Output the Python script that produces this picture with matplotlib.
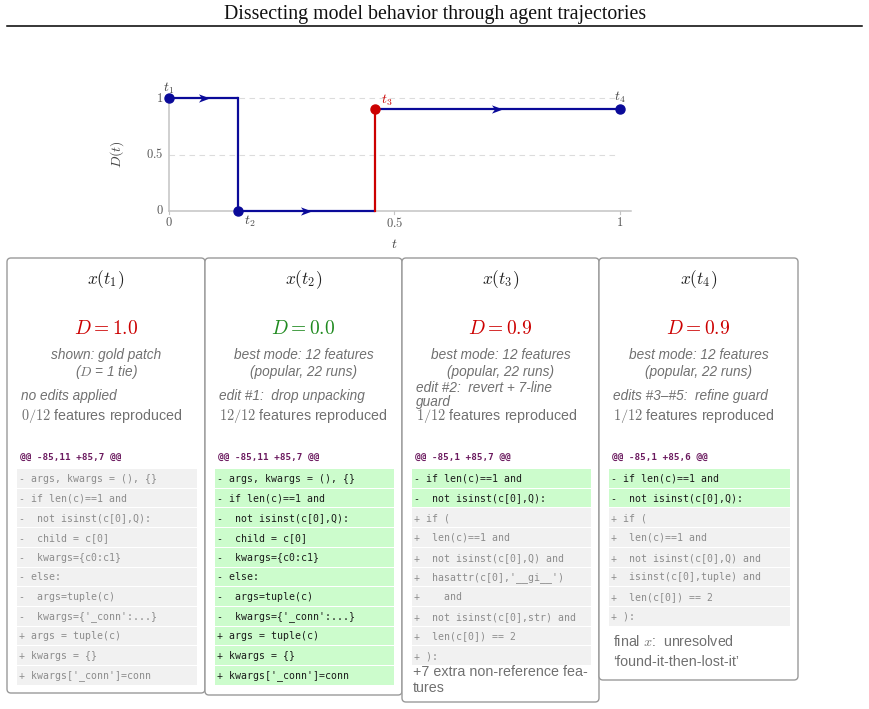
import matplotlib
matplotlib.use("Agg")
import matplotlib.pyplot as plt
from matplotlib.patches import FancyBboxPatch, Rectangle
from matplotlib.path import Path
import numpy as np

plt.rcParams['mathtext.fontset'] = 'cm'

# ---------------- data ----------------
title = "Dissecting model behavior through agent trajectories"
t_vals = [0.0, 0.153, 0.456, 1.0]
D_vals = [1.0, 0.0, 0.9, 0.9]
t_names = ["$t_1$", "$t_2$", "$t_3$", "$t_4$"]
jump_is_red = [False, True, False]   # transitions into t2, t3, t4
x_ticks = [0, 0.5, 1]
x_tick_labels = ["$0$", "$0.5$", "$1$"]
y_ticks = [0, 0.5, 1]
y_tick_labels = ["$0$", "$0.5$", "$1$"]

panel_titles = ["$x(t_1)$", "$x(t_2)$", "$x(t_3)$", "$x(t_4)$"]
panel_D = [1.0, 0.0, 0.9, 0.9]
panel_D_good = [False, True, False, False]
mode_line1 = ["shown: gold patch", "best mode: 12 features",
              "best mode: 12 features", "best mode: 12 features"]
mode_line2 = ["($D$ = 1 tie)", "(popular, 22 runs)",
              "(popular, 22 runs)", "(popular, 22 runs)"]
edit_lines = [["no edits applied"], ["edit #1:  drop unpacking"],
              ["edit #2:  revert + 7-line", "guard"], ["edits #3\u2013#5:  refine guard"]]
reproduced = [0, 12, 1, 1]
n_features = 12
hunk_headers = ["@@ -85,11 +85,7 @@", "@@ -85,11 +85,7 @@",
                "@@ -85,1 +85,7 @@", "@@ -85,1 +85,6 @@"]

code_full = ["- args, kwargs = (), {}",
             "- if len(c)==1 and",
             "-  not isinst(c[0],Q):",
             "-  child = c[0]",
             "-  kwargs={c0:c1}",
             "- else:",
             "-  args=tuple(c)",
             "-  kwargs={'_conn':...}",
             "+ args = tuple(c)",
             "+ kwargs = {}",
             "+ kwargs['_conn']=conn"]
code_t3 = ["- if len(c)==1 and",
           "-  not isinst(c[0],Q):",
           "+ if (",
           "+  len(c)==1 and",
           "+  not isinst(c[0],Q) and",
           "+  hasattr(c[0],'__gi__')",
           "+    and",
           "+  not isinst(c[0],str) and",
           "+  len(c[0]) == 2",
           "+ ):"]
code_t4 = ["- if len(c)==1 and",
           "-  not isinst(c[0],Q):",
           "+ if (",
           "+  len(c)==1 and",
           "+  not isinst(c[0],Q) and",
           "+  isinst(c[0],tuple) and",
           "+  len(c[0]) == 2",
           "+ ):"]
panel_code = [code_full, code_full, code_t3, code_t4]
panel_green_rows = [0, 11, 2, 2]   # number of leading rows highlighted green
footers = [[], [], ["+7 extra non-reference fea-", "tures"],
           ["final $x$:  unresolved", "\u2018found-it-then-lost-it\u2019"]]

# ---------------- styles ----------------
BLUE = "#0a0a99"
RED = "#cc0000"
GREEN_TXT = "#1f8a1f"
GRAY_TXT = "#707070"
GREEN_BG = "#ccfccc"
GRAY_BG = "#f1f1f1"
PURPLE = "#6b1a5f"

W, H = 870, 709
fig = plt.figure(figsize=(W / 100, H / 100), dpi=100)
bg = fig.add_axes([0, 0, 1, 1])
bg.set_xlim(0, W)
bg.set_ylim(H, 0)
bg.axis("off")

# title and rule
bg.text(W / 2, 14, title, ha="center", va="center", fontsize=14.3,
        family="Liberation Serif", color="#111")
bg.plot([7, 862], [26, 26], color="black", lw=1.1)

# ---------------- chart ----------------
px0, px1 = 169, 620
py0, py1 = 211, 98
ax = fig.add_axes([px0 / W, 1 - py0 / H, (px1 - px0) / W, (py0 - py1) / H])
ax.set_xlim(0, 1)
ax.set_ylim(0, 1)
ax.axis("off")

ax.plot([0, 1.025], [0, 0], color="#c4c4c4", lw=1.1, clip_on=False, zorder=1)
ax.plot([0, 0], [0, 1], color="#c4c4c4", lw=1.1, clip_on=False, zorder=1)
for yv in [0.5, 1.0]:
    ax.plot([0, 0.99], [yv, yv], color="#dcdcdc", lw=0.8, ls=(0, (5, 4)),
            clip_on=False, zorder=0)
for xv, lab in zip(x_ticks, x_tick_labels):
    ax.plot([xv, xv], [0, -0.025], color="#c4c4c4", lw=0.8, clip_on=False)
    ax.text(xv, -0.04, lab, ha="center", va="top", fontsize=9, color="#555")
for yv, lab in zip(y_ticks, y_tick_labels):
    ax.text(-0.012, yv, lab, ha="right", va="center", fontsize=9, color="#555")
ax.text(0.5, -0.29, "$t$", ha="center", va="center", fontsize=10, color="#444")
ax.text(-0.115, 0.5, "$D(t)$", ha="center", va="center", fontsize=10,
        color="#444", rotation=90)

stealth = Path([(-1, -0.75), (1, 0), (-1, 0.75), (-0.45, 0), (-1, -0.75)],
               [Path.MOVETO, Path.LINETO, Path.LINETO, Path.LINETO, Path.CLOSEPOLY])
for i in range(len(t_vals) - 1):
    ax.plot([t_vals[i], t_vals[i + 1]], [D_vals[i], D_vals[i]], color=BLUE,
            lw=1.6, clip_on=False, zorder=3, solid_capstyle="butt")
    mid = 0.5 * (t_vals[i] + t_vals[i + 1])
    ax.plot(mid, D_vals[i], marker=stealth, ms=8, color=BLUE, mec=BLUE,
            mew=0, clip_on=False, zorder=4)
    if D_vals[i + 1] != D_vals[i]:
        ax.plot([t_vals[i + 1], t_vals[i + 1]], [D_vals[i], D_vals[i + 1]],
                color=RED if jump_is_red[i] else BLUE, lw=1.6,
                clip_on=False, zorder=3)
for i, (tv, dv) in enumerate(zip(t_vals, D_vals)):
    c = RED if i == 2 else BLUE
    ax.plot(tv, dv, "o", ms=6.5, color=c, clip_on=False, zorder=5)

label_offsets = [(0, 10), (12, -10), (12, 9), (0, 12)]
for i in range(len(t_vals)):
    ax.annotate(t_names[i], (t_vals[i], D_vals[i]), xytext=label_offsets[i],
                textcoords="offset pixels", ha="center", va="center",
                fontsize=10, color=RED if i == 2 else "#444")

# ---------------- panels ----------------
lefts = [7, 205, 402, 599]
rights = [205, 402, 599, 798]
bottoms = [693, 695, 702, 680]
top = 258
row_top = 469
row_h = 19.7
sans = "Liberation Sans"
mono = "DejaVu Sans Mono"

for p in range(4):
    L, R, B = lefts[p], rights[p], bottoms[p]
    cx = 0.5 * (L + R)
    box = FancyBboxPatch((L, top), R - L, B - top,
                         boxstyle="round,pad=0,rounding_size=4",
                         fc="white", ec="#9a9a9a", lw=1.0, zorder=1)
    bg.add_patch(box)
    bg.text(cx, 280, panel_titles[p], ha="center", va="center",
            fontsize=12.5, color="#222", zorder=3)
    bg.text(cx, 328, "$D = %.1f$" % panel_D[p], ha="center", va="center",
            fontsize=14, color=GREEN_TXT if panel_D_good[p] else RED, zorder=3)
    bg.text(cx, 355, mode_line1[p], ha="center", va="center", fontsize=9.8,
            family=sans, style="italic", color=GRAY_TXT, zorder=3)
    bg.text(cx, 372, mode_line2[p], ha="center", va="center", fontsize=9.8,
            family=sans, style="italic", color=GRAY_TXT, zorder=3)
    el = edit_lines[p]
    if len(el) == 1:
        bg.text(L + 14, 396, el[0], ha="left", va="center", fontsize=9.8,
                family=sans, style="italic", color=GRAY_TXT, zorder=3)
    else:
        bg.text(L + 14, 388, el[0], ha="left", va="center", fontsize=9.8,
                family=sans, style="italic", color=GRAY_TXT, zorder=3)
        bg.text(L + 14, 402, el[1], ha="left", va="center", fontsize=9.8,
                family=sans, style="italic", color=GRAY_TXT, zorder=3)
    bg.text(L + 14, 416, "$%d/%d$ features reproduced" % (reproduced[p], n_features),
            ha="left", va="center", fontsize=10.3, family=sans,
            color=GRAY_TXT, zorder=3)
    bg.text(L + 13, 457, hunk_headers[p], ha="left", va="center", fontsize=6.7,
            family=mono, weight="bold", color=PURPLE, zorder=3)
    for r, line in enumerate(panel_code[p]):
        y0 = row_top + r * row_h
        green = r < panel_green_rows[p]
        bg.add_patch(Rectangle((L + 10, y0), R - L - 18, row_h - 1,
                               fc=GREEN_BG if green else GRAY_BG, ec="none",
                               zorder=2))
        bg.text(L + 12, y0 + row_h / 2, line, ha="left", va="center",
                fontsize=7.1, family=mono,
                color="#1a1a1a" if green else "#8c8c8c", zorder=3)
    y_end = row_top + len(panel_code[p]) * row_h
    if p == 2:
        for k, ln in enumerate(footers[p]):
            bg.text(L + 11, y_end + 6 + k * 16, ln, ha="left", va="center",
                    fontsize=10.3, family=sans, color=GRAY_TXT, zorder=3)
    elif p == 3:
        for k, ln in enumerate(footers[p]):
            bg.text(L + 14, y_end + 15 + k * 20, ln, ha="left", va="center",
                    fontsize=10.3, family=sans, color=GRAY_TXT, zorder=3)

fig.savefig("out.png", dpi=100)
